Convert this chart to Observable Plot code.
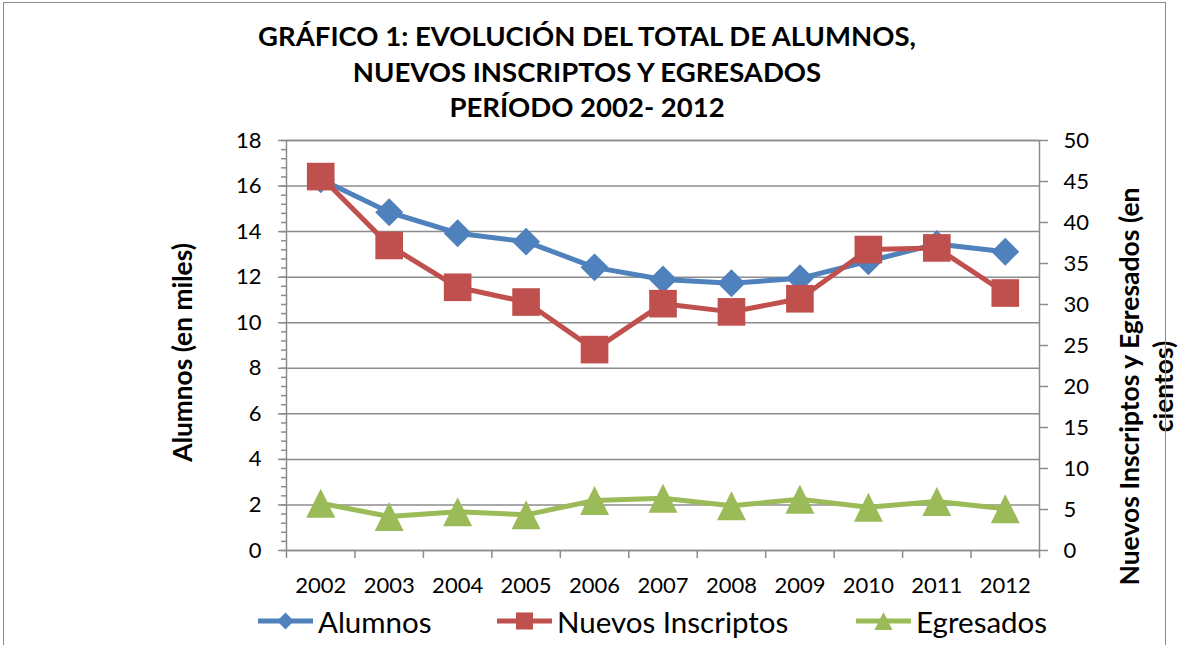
<!DOCTYPE html>
<html>
<head>
<meta charset="utf-8">
<script src="https://cdn.jsdelivr.net/npm/d3@7"></script>
<script src="https://cdn.jsdelivr.net/npm/@observablehq/plot@0.6"></script>
<style>
  html, body { margin: 0; padding: 0; background: #fff; }
  #wrap { position: relative; width: 1178px; height: 645px; overflow: hidden; font-family: Lato, sans-serif; }
  #wrap > * { position: absolute; left: 0; }
  #border { left: 3px !important; top: 2px; width: 1161px; height: 700px; border: 1px solid #8a8a8a; pointer-events: none; }
</style>
</head>
<body>
<div id="wrap"></div>
<script>
// ---------- data ----------
const years = ["2002","2003","2004","2005","2006","2007","2008","2009","2010","2011","2012"];
const alumnos     = [16.3, 14.85, 13.93, 13.56, 12.43, 11.9, 11.73, 11.95, 12.7, 13.46, 13.12]; // miles (left axis)
const inscriptos  = [45.6, 37.2, 32.1, 30.3, 24.5, 30.1, 29.1, 30.7, 36.7, 36.9, 31.4];        // cientos (right axis)
const egresados   = [5.77, 4.15, 4.72, 4.35, 6.1, 6.38, 5.45, 6.26, 5.28, 5.97, 5.08];         // cientos (right axis)
const leftTicks   = [0, 2, 4, 6, 8, 10, 12, 14, 16, 18];
const rightTicks  = [0, 5, 10, 15, 20, 25, 30, 35, 40, 45, 50];
const titleLines  = ["GRÁFICO 1: EVOLUCIÓN DEL TOTAL DE ALUMNOS,", "NUEVOS INSCRIPTOS Y EGRESADOS", "PERÍODO 2002- 2012"];
const leftTitle   = "Alumnos (en miles)";
const rightTitle  = ["Nuevos Inscriptos y Egresados (en", "cientos)"];
const seriesNames = ["Alumnos", "Nuevos Inscriptos", "Egresados"];

// ---------- styling ----------
const BLUE = "#4F81BD", RED = "#C0504D", GREEN = "#9BBB59", GRID = "#8c8c8c";
const K = 18 / 50; // right axis (0-50) mapped onto left axis (0-18)
const minorTicks = d3.range(0, 18.0001, 0.4).map(v => +v.toFixed(2));

const data = years.map((y, i) => ({
  i, year: y,
  alumnos: alumnos[i],
  inscriptos: inscriptos[i] * K,
  egresados: egresados[i] * K
}));
const xPos = d => d.i + 0.5;

const triangle = {
  draw(ctx, size) {
    const r = Math.sqrt(size / Math.PI);
    ctx.moveTo(0, -r); ctx.lineTo(r, r); ctx.lineTo(-r, r); ctx.closePath();
  }
};

const wrap = d3.select("#wrap");

// ---------- title ----------
const head = wrap.append("svg").attr("width", 1178).attr("height", 125).style("top", "0px");
head.selectAll("text").data(titleLines).join("text")
  .attr("x", 587).attr("y", (d, i) => 46 + i * 35.5)
  .attr("text-anchor", "middle")
  .attr("font-family", "Lato, sans-serif").attr("font-weight", "bold").attr("font-size", 27.5)
  .attr("fill", "#000").text(d => d);

// ---------- chart ----------
const chart = Plot.plot({
  width: 1178, height: 475,
  marginLeft: 286, marginRight: 139, marginTop: 15, marginBottom: 50,
  style: { fontFamily: "Lato, sans-serif", fontSize: "22px", color: "#000", background: "transparent", overflow: "visible" },
  x: { domain: [0, years.length], axis: null },
  y: { domain: [0, 18], axis: null },
  marks: [
    Plot.gridY(leftTicks, { stroke: GRID, strokeOpacity: 1, strokeWidth: 1.5 }),
    Plot.frame({ stroke: GRID, strokeWidth: 1.5 }),
    Plot.axisY(minorTicks, { anchor: "left", tickSize: 5, tickFormat: () => "", stroke: GRID, strokeWidth: 1.5, label: null }),
    Plot.axisY(leftTicks, { anchor: "left", tickSize: 8, tickPadding: 17, stroke: GRID, strokeWidth: 1.5, label: null }),
    Plot.axisY(rightTicks.map(v => v * K), { anchor: "right", tickSize: 8, tickPadding: 16, tickFormat: d => String(Math.round(d / K)), stroke: GRID, strokeWidth: 1.5, label: null }),
    Plot.axisX(d3.range(0, years.length + 1), { anchor: "bottom", tickSize: 8, tickFormat: () => "", stroke: GRID, strokeWidth: 1.5, label: null }),
    Plot.axisX(years.map((_, i) => i + 0.5), { anchor: "bottom", tickSize: 0, tickPadding: 27, tickFormat: d => years[Math.floor(d)], label: null }),

    Plot.line(data, { x: xPos, y: "alumnos", stroke: BLUE, strokeWidth: 5 }),
    Plot.dot(data, { x: xPos, y: "alumnos", symbol: "diamond2", r: 12.6, fill: BLUE, stroke: null }),
    Plot.line(data, { x: xPos, y: "inscriptos", stroke: RED, strokeWidth: 5 }),
    Plot.dot(data, { x: xPos, y: "inscriptos", symbol: "square", r: 15.6, fill: RED, stroke: null }),
    Plot.line(data, { x: xPos, y: "egresados", stroke: GREEN, strokeWidth: 5 }),
    Plot.dot(data, { x: xPos, y: "egresados", symbol: triangle, r: 14.5, fill: GREEN, stroke: null }),

    Plot.text([leftTitle], { text: d => d, frameAnchor: "left", rotate: -90, dx: -103, dy: 7, textAnchor: "middle", lineAnchor: "middle", fontWeight: "bold", fontSize: 26.3 }),
    Plot.text([rightTitle[0]], { text: d => d, frameAnchor: "right", rotate: -90, dx: 91, dy: 41, textAnchor: "middle", lineAnchor: "middle", fontWeight: "bold", fontSize: 26.5 }),
    Plot.text([rightTitle[1]], { text: d => d, frameAnchor: "right", rotate: -90, dx: 125, dy: 41, textAnchor: "middle", lineAnchor: "middle", fontWeight: "bold", fontSize: 26.5 })
  ]
});
d3.select(chart).style("position", "absolute").style("left", "0px").style("top", "125px");
wrap.node().appendChild(chart);

// ---------- legend ----------
const leg = wrap.append("svg").attr("width", 1178).attr("height", 45).style("top", "600px");
const legItems = [
  { name: seriesNames[0], color: BLUE,  sym: d3.symbolDiamond2, size: 180, x: 258 },
  { name: seriesNames[1], color: RED,   sym: d3.symbolSquare,   size: 290, x: 497 },
  { name: seriesNames[2], color: GREEN, sym: null,              size: 0,   x: 856 }
];
legItems.forEach(it => {
  const g = leg.append("g").attr("transform", `translate(${it.x},21)`);
  g.append("line").attr("x1", 0).attr("x2", 55).attr("stroke", it.color).attr("stroke-width", 5);
  if (it.sym) {
    g.append("path").attr("transform", "translate(27.5,0)").attr("d", d3.symbol(it.sym, it.size)()).attr("fill", it.color);
  } else {
    g.append("path").attr("transform", "translate(27.5,0)").attr("d", "M0,-9L9,9L-9,9Z").attr("fill", it.color);
  }
  g.append("text").attr("x", 60).attr("y", 12).attr("font-family", "Lato, sans-serif").attr("font-size", 29.5).attr("fill", "#000").text(it.name);
});

wrap.append("div").attr("id", "border");
</script>
</body>
</html>
